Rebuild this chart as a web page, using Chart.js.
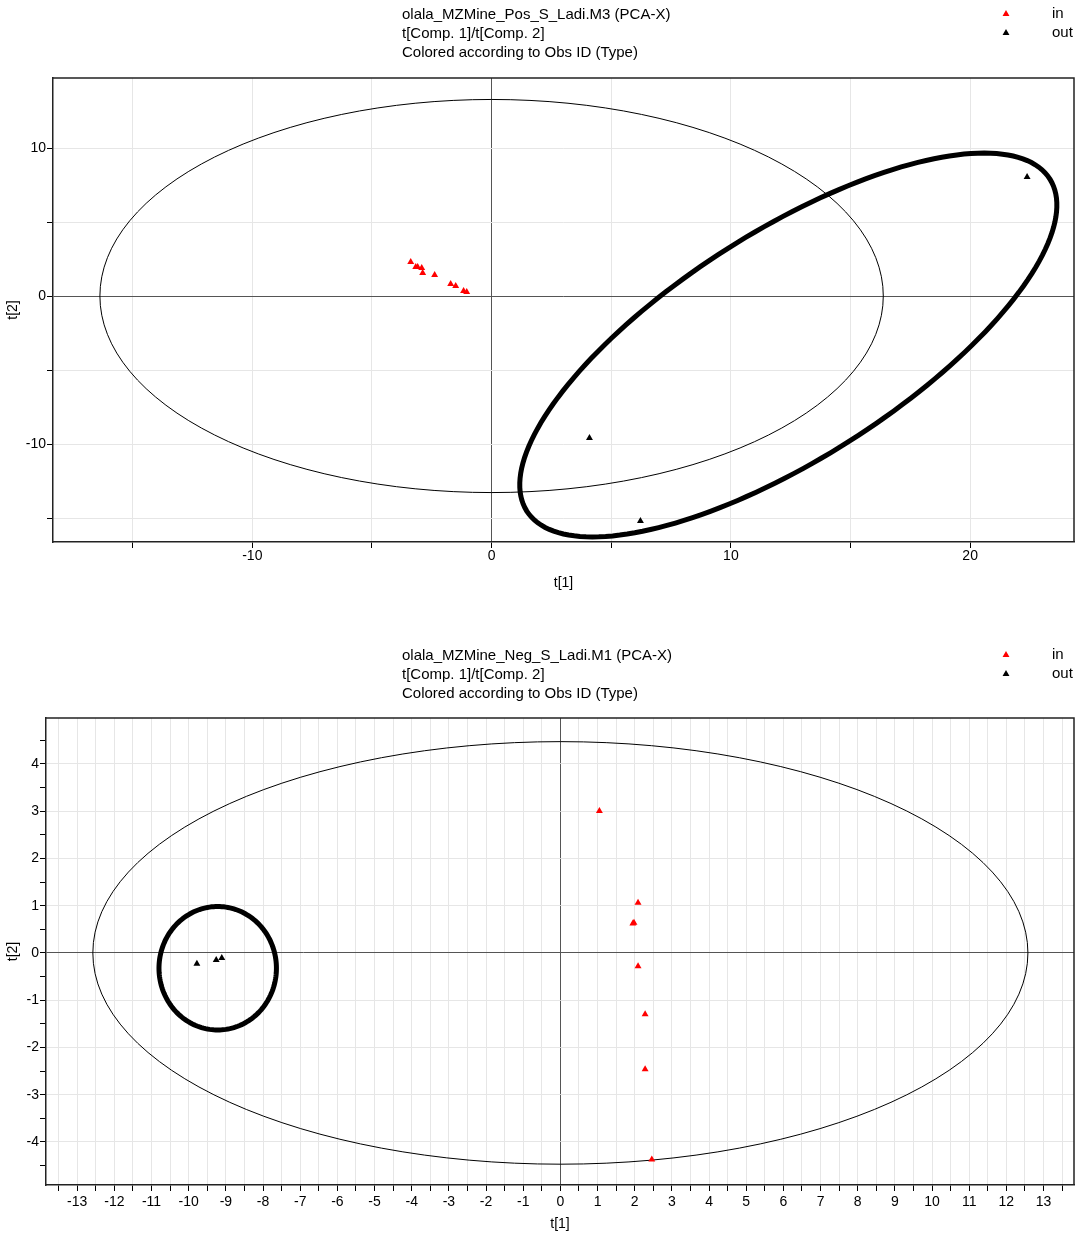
<!DOCTYPE html>
<html>
<head>
<meta charset="utf-8">
<script src="https://cdn.jsdelivr.net/npm/chart.js@4.4.0/dist/chart.umd.min.js"></script>
<style>
  body { margin: 0; background: #fff; }
  canvas { position: absolute; left: 0; }
</style>
</head>
<body>
<canvas id="posChart" width="1078" height="610" style="top:0"></canvas>
<canvas id="negChart" width="1078" height="626" style="top:610px"></canvas>
<script>
const posInT1 = [-3.38, -3.17, -3.09, -2.92, -2.88, -2.38, -1.71, -1.50, -1.17, -1.04];
const posInT2 = [2.30, 1.96, 1.96, 1.89, 1.55, 1.42, 0.81, 0.68, 0.34, 0.27];
const posOutT1 = [22.38, 4.09, 6.22];
const posOutT2 = [8.04, -9.59, -15.2];

const negInT1 = [1.05, 2.09, 1.95, 1.98, 2.09, 2.28, 2.28, 2.46];
const negInT2 = [3.00, 1.06, 0.62, 0.64, -0.28, -1.30, -2.46, -4.37];
const negOutT1 = [-9.78, -9.26, -9.11];
const negOutT2 = [-0.23, -0.15, -0.11];

const legendLabels = ['in', 'out'];
const typeColors = ['#ff0000', '#000000'];

const FONT = "'Liberation Sans', Arial, sans-serif";

function pts(xs, ys) { return xs.map((x, i) => ({ x: x, y: ys[i] })); }

// titre, legende, ellipse de Hotelling et entourage a la main
const pcaDeco = {
  id: 'pcaDeco',
  beforeDatasetsDraw(chart, args, opts) {
    const { ctx, chartArea: ca, scales: { x, y } } = chart;
    ctx.save();
    ctx.beginPath();
    ctx.rect(ca.left, ca.top, ca.right - ca.left, ca.bottom - ca.top);
    ctx.clip();
    const cx = x.getPixelForValue(0), cy = y.getPixelForValue(0);
    const rx = x.getPixelForValue(opts.hotelling[0]) - cx;
    const ry = cy - y.getPixelForValue(opts.hotelling[1]);
    ctx.beginPath();
    ctx.ellipse(cx, cy, rx, ry, 0, 0, Math.PI * 2);
    ctx.strokeStyle = '#000';
    ctx.lineWidth = 1;
    ctx.stroke();
    ctx.restore();
  },
  afterDatasetsDraw(chart, args, opts) {
    const { ctx, scales: { x, y } } = chart;
    const m = opts.mark; // centre + deux demi-axes conjugues, en unites du graphe
    ctx.save();
    ctx.beginPath();
    for (let k = 0; k <= 180; k++) {
      const t = k / 180 * Math.PI * 2;
      const vx = m.c[0] + m.u[0] * Math.cos(t) + m.v[0] * Math.sin(t);
      const vy = m.c[1] + m.u[1] * Math.cos(t) + m.v[1] * Math.sin(t);
      const px = x.getPixelForValue(vx), py = y.getPixelForValue(vy);
      if (k === 0) ctx.moveTo(px, py); else ctx.lineTo(px, py);
    }
    ctx.closePath();
    ctx.strokeStyle = '#000';
    ctx.lineWidth = 5;
    ctx.stroke();
    ctx.restore();
  },
  afterDraw(chart, args, opts) {
    const { ctx, chartArea: ca } = chart;
    ctx.save();
    // cadre haut + droite
    ctx.strokeStyle = '#222';
    ctx.lineWidth = 1.5;
    ctx.beginPath();
    ctx.moveTo(ca.left, ca.top); ctx.lineTo(ca.right, ca.top); ctx.lineTo(ca.right, ca.bottom);
    ctx.stroke();
    // titre
    ctx.fillStyle = '#000';
    ctx.font = '15px ' + FONT;
    ctx.textBaseline = 'middle';
    ctx.textAlign = 'left';
    opts.title.forEach((line, i) => ctx.fillText(line, 402, opts.titleY + i * 19));
    // legende
    legendLabels.forEach((lab, i) => {
      const ly = opts.titleY - 1 + i * 19;
      ctx.fillStyle = typeColors[i];
      Chart.helpers.drawPoint(ctx, { pointStyle: 'triangle', radius: 4, rotation: 0, borderWidth: 0 }, 1006, ly);
      ctx.fillStyle = '#000';
      ctx.fillText(lab, 1052, ly);
    });
    ctx.restore();
  }
};

function gridColor(minorGrid) {
  return c => {
    const v = c.tick.value;
    if (v === 0) return '#555';
    if (!minorGrid && !Number.isInteger(v)) return 'rgba(0,0,0,0)';
    return '#e6e6e6';
  };
}

function makeChart(id, cfg) {
  new Chart(document.getElementById(id), {
    type: 'scatter',
    data: {
      datasets: [
        { label: 'in', data: cfg.inPts, backgroundColor: typeColors[0], pointStyle: 'triangle', pointRadius: 4, borderWidth: 0 },
        { label: 'out', data: cfg.outPts, backgroundColor: typeColors[1], pointStyle: 'triangle', pointRadius: 4, borderWidth: 0 }
      ]
    },
    options: {
      responsive: false,
      animation: false,
      layout: { padding: { top: cfg.top, right: 3, left: 0, bottom: 0 } },
      scales: {
        x: {
          type: 'linear', min: cfg.xMin, max: cfg.xMax,
          afterFit: s => { s.height = cfg.xAxisH; },
          ticks: { stepSize: cfg.xStep, includeBounds: false, padding: cfg.xPad, maxRotation: 0, autoSkip: false,
                   color: '#000', font: { family: FONT, size: 14 }, callback: cfg.xLabel },
          grid: { color: gridColor(true), tickColor: '#000', tickLength: 6, lineWidth: 1 },
          border: { color: '#222', width: 1.5 },
          title: { display: true, text: 't[1]', color: '#000', font: { family: FONT, size: 14 }, padding: { top: 0, bottom: cfg.xTitlePad } }
        },
        y: {
          type: 'linear', min: cfg.yMin, max: cfg.yMax,
          afterFit: s => { s.width = cfg.yAxisW; },
          ticks: { stepSize: cfg.yStep, includeBounds: false, padding: 1, autoSkip: false,
                   color: '#000', font: { family: FONT, size: 14 }, callback: cfg.yLabel },
          grid: { color: gridColor(cfg.yMinorGrid), tickColor: '#000', tickLength: 6, lineWidth: 1 },
          border: { color: '#222', width: 1.5 },
          title: { display: true, text: 't[2]', color: '#000', font: { family: FONT, size: 14 }, padding: { top: 5, bottom: 0 } }
        }
      },
      plugins: {
        legend: { display: false },
        tooltip: { enabled: false },
        pcaDeco: { title: cfg.title, titleY: cfg.titleY, hotelling: cfg.hotelling, mark: cfg.mark }
      }
    },
    plugins: [pcaDeco]
  });
}

makeChart('posChart', {
  inPts: pts(posInT1, posInT2), outPts: pts(posOutT1, posOutT2),
  xMin: -18.33, xMax: 24.34, yMin: -16.62, yMax: 14.73,
  xStep: 5, yStep: 5, yMinorGrid: true,
  xLabel: v => (v % 10 === 0 ? v : ''), yLabel: v => (v % 10 === 0 ? v : ''),
  top: 78, xAxisH: 68, yAxisW: 53, xPad: 0, xTitlePad: 18,
  title: ['olala_MZMine_Pos_S_Ladi.M3 (PCA-X)', 't[Comp. 1]/t[Comp. 2]', 'Colored according to Obs ID (Type)'],
  titleY: 15,
  hotelling: [16.37, 13.28],
  mark: { c: [12.40, -3.31], u: [10.93, 11.22], v: [-2.55, 6.50] }
});

makeChart('negChart', {
  inPts: pts(negInT1, negInT2), outPts: pts(negOutT1, negOutT2),
  xMin: -13.84, xMax: 13.82, yMin: -4.91, yMax: 4.97,
  xStep: 0.5, yStep: 0.5, yMinorGrid: false,
  xLabel: v => (Number.isInteger(v) ? v : ''), yLabel: v => (Number.isInteger(v) ? v : ''),
  top: 108, xAxisH: 51, yAxisW: 46, xPad: 3, xTitlePad: 3,
  title: ['olala_MZMine_Neg_S_Ladi.M1 (PCA-X)', 't[Comp. 1]/t[Comp. 2]', 'Colored according to Obs ID (Type)'],
  titleY: 46,
  hotelling: [12.58, 4.47],
  mark: { c: [-9.22, -0.324], u: [1.58, 0], v: [0, 1.306] }
});
</script>
</body>
</html>
